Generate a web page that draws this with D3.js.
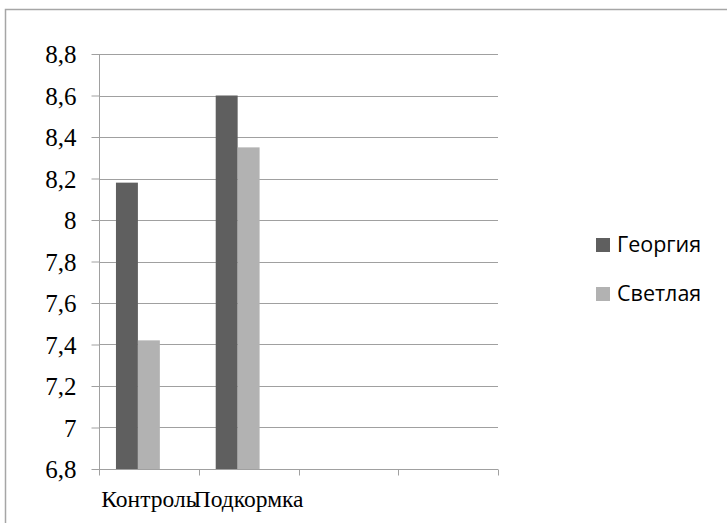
<!DOCTYPE html>
<html><head><meta charset="utf-8">
<script src="https://cdn.jsdelivr.net/npm/d3@7"></script>
<style>body{margin:0;background:#fff}svg{display:block}
.serif{font-family:"Times New Roman","Liberation Serif",serif}
</style>
</head><body>
<script>
const categories = ["Контроль", "Подкормка", "", ""];
const seriesNames = ["Георгия", "Светлая"];
const georgia = [8.18, 8.6, null, null];
const svetlaya = [7.42, 8.35, null, null];
const yTicks = [6.8, 7, 7.2, 7.4, 7.6, 7.8, 8, 8.2, 8.4, 8.6, 8.8];
const colors = ["#5f5f5f", "#b2b2b2"];

const W = 727, H = 523;
const svg = d3.select("body").append("svg").attr("width", W).attr("height", H);

// outer frame
svg.append("path").attr("d", "M5.5,523 V9.5 H727").attr("fill", "none")
  .attr("stroke", "#a6a6a6").attr("stroke-width", 1.5);

const pL = 99, pR = 498, pT = 54, pB = 469;
const y = d3.scaleLinear().domain([6.8, 8.8]).range([pB, pT]);
const x0 = d3.scaleBand().domain(d3.range(categories.length)).range([pL, pR]).padding(0);
// three slots per group (third empty), Excel-style gap
const x1 = d3.scaleBand().domain([0, 1, 2]).range([17, 83]).padding(0);

// gridlines
svg.append("g").selectAll("line").data(yTicks.slice(1)).join("line")
  .attr("x1", pL).attr("x2", pR)
  .attr("y1", d => Math.round(y(d)) + 0.5).attr("y2", d => Math.round(y(d)) + 0.5)
  .attr("stroke", "#a0a0a0").attr("stroke-width", 1);

// bars
const data = [georgia, svetlaya];
data.forEach((vals, si) => {
  svg.append("g").selectAll("rect").data(vals.map((v, i) => ({v, i})).filter(d => d.v != null)).join("rect")
    .attr("x", d => x0(d.i) + x0.bandwidth() * x1(si) / 100)
    .attr("width", x0.bandwidth() * x1.bandwidth() / 100)
    .attr("y", d => y(d.v))
    .attr("height", d => y(6.8) - y(d.v))
    .attr("fill", colors[si]);
});

// y axis
const yAxis = d3.axisLeft(y).tickValues(yTicks).tickSize(8).tickPadding(15)
  .tickFormat(d => String(d).replace(".", ","));
const gy = svg.append("g").attr("transform", `translate(${pL + 0.5},0)`).call(yAxis);
gy.attr("font-family", null).attr("font-size", null);
gy.select(".domain").attr("stroke", "#a0a0a0").attr("d", `M0,${pB}V${pT}`);
gy.selectAll(".tick line").attr("stroke", "#a0a0a0");
gy.selectAll(".tick text").attr("class", "serif").style("font-size", "25px")
  .attr("fill", "#000").attr("dy", "0.34em");

// x axis
const xAxis = d3.axisBottom(x0).tickSize(0).tickFormat(i => categories[i]);
const gx = svg.append("g").attr("transform", `translate(0,${pB + 0.5})`).call(xAxis);
gx.attr("font-family", null).attr("font-size", null);
gx.select(".domain").remove();
gx.append("path").attr("d", `M${pL},0H${pR}`).attr("stroke", "#a0a0a0").attr("fill", "none");
gx.selectAll(".tick text").attr("class", "serif").style("font-size", "23.5px")
  .attr("fill", "#000").attr("y", 0).attr("dy", 37);
const boundaries = d3.range(categories.length + 1).map(i => pL + i * x0.bandwidth());
gx.selectAll(".bt").data(boundaries).join("line").attr("class", "bt")
  .attr("x1", d => Math.round(d) + 0.5).attr("x2", d => Math.round(d) + 0.5)
  .attr("y1", 0).attr("y2", 6).attr("stroke", "#a0a0a0");

// legend
const lg = svg.append("g").attr("transform", "translate(596,238)");
seriesNames.forEach((n, i) => {
  const g = lg.append("g").attr("transform", `translate(0,${i * 49})`);
  g.append("rect").attr("width", 14).attr("height", 14).attr("fill", colors[i]);
  g.append("text").attr("x", 21).attr("y", 14).style("font-family", "'Open Sans'")
    .style("font-size", "21.5px").attr("fill", "#000").text(n);
});
</script>
</body></html>
